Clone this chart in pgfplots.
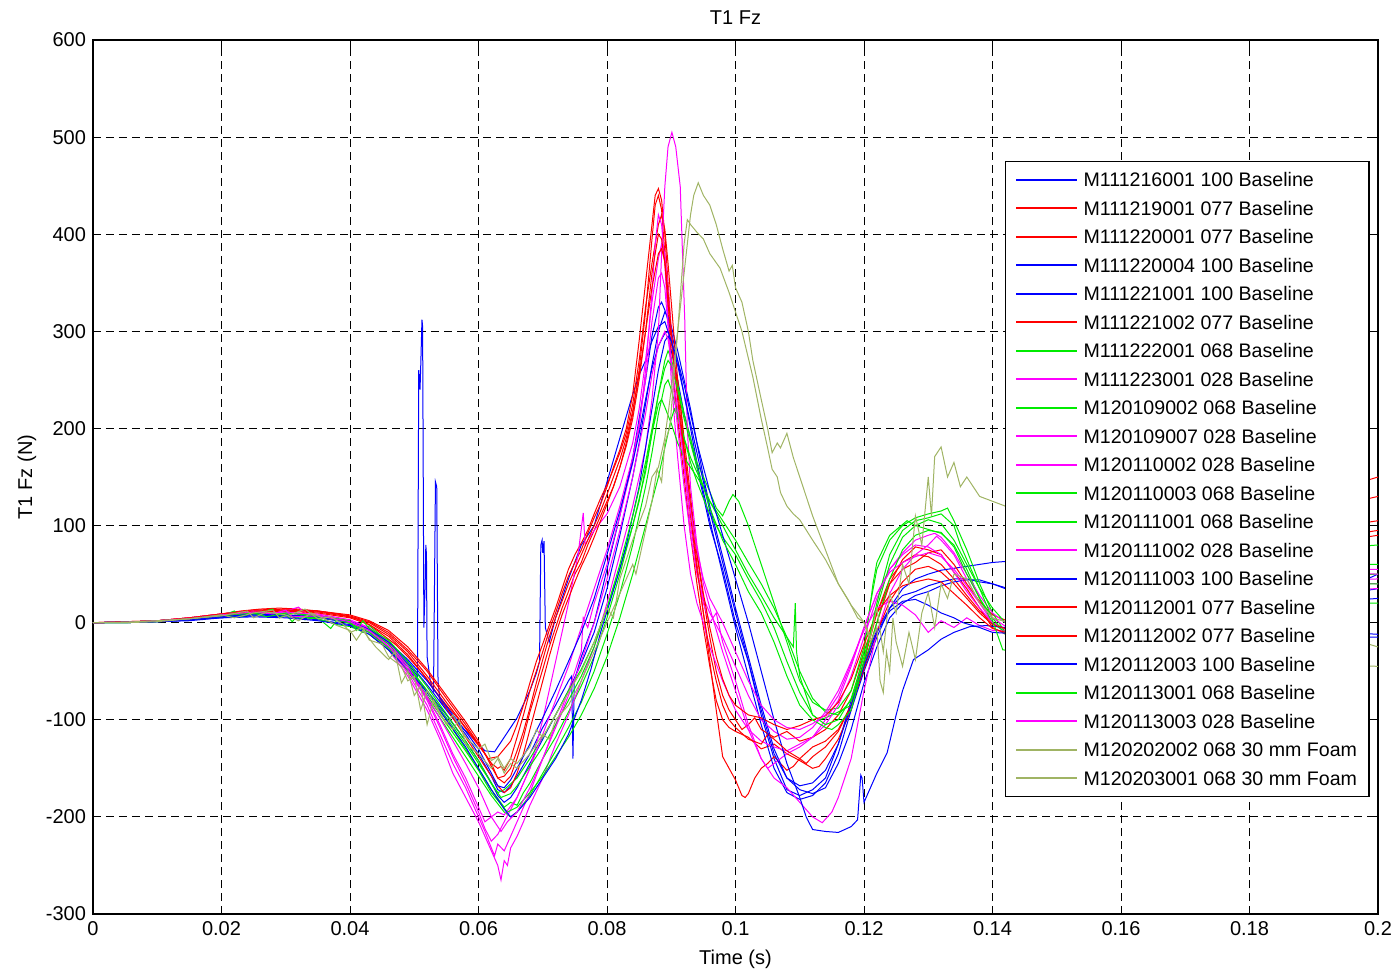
\documentclass[border=0pt]{standalone}
\usepackage{fontspec}
\setmainfont{Liberation Sans}
\usepackage{pgfplots}
\pgfplotsset{compat=1.18}
\definecolor{mblue}{RGB}{0,0,255}
\definecolor{mred}{RGB}{255,0,0}
\definecolor{mgreen}{RGB}{0,235,0}
\definecolor{mmag}{RGB}{255,0,255}
\definecolor{molive}{RGB}{160,180,100}
\begin{document}
\begin{tikzpicture}
\useasboundingbox (-46.5pt,-28pt) rectangle (652pt,457pt);
\begin{axis}[
  at={(0,0)}, anchor=south west,
  scale only axis, width=642.5pt, height=437pt,
  xmin=0, xmax=0.2, ymin=-300, ymax=600,
  xtick={0,0.02,0.04,0.06,0.08,0.1,0.12,0.14,0.16,0.18,0.2},
  xticklabels={0,0.02,0.04,0.06,0.08,0.1,0.12,0.14,0.16,0.18,0.2},
  scaled x ticks=false,
  ytick={-300,-200,...,600},
  /pgf/number format/assume math mode=true,
  tick align=inside, major tick length=4pt,
  tick style={black, line width=0.5pt},
  axis line style={black, line width=0.6pt},
  grid=major,
  grid style={black, line width=0.5pt, dash pattern=on 4pt off 2.5pt},
  title={T1 Fz},
  title style={at={(0.5,1)}, anchor=base, yshift=2pt},
  xlabel={Time (s)},
  xlabel style={at={(axis description cs:0.5,0)}, anchor=base, yshift=-25pt},
  ylabel={T1 Fz (N)},
  ylabel style={at={(axis description cs:-0.0514,0.5)}, anchor=center, rotate=0},
  legend cell align=left,
  legend style={at={(0.7097,0.8616)}, anchor=north west, draw=black, fill=white,
     line width=0.6pt, inner xsep=4.25pt, inner ysep=2.25pt, row sep=0.76pt,
     font=\fontsize{9.8}{12}\selectfont,
     nodes={text height=8.5pt, text depth=1.5pt, inner sep=1.75pt}},
  legend image code/.code={\path[draw=none,fill=none] (0pt,-3.5pt) rectangle (33pt,0pt);\draw[#1, line width=1pt] (1pt,0pt) -- (31.5pt,0pt);},
  every axis plot/.append style={line width=0.5pt},
]
% 1 blue spikes
\addplot[mblue] coordinates {(0,0)(0.005,0.5)(0.01,1)(0.015,3)(0.02,6)(0.025,8)(0.03,7)(0.035,5)(0.04,0)(0.043,-8)(0.046,-22)(0.049,-42)(0.0505,-55)(0.0507,260)(0.0509,240)(0.051,262)(0.0512,312)(0.0513,305)(0.0515,-5)(0.0517,40)(0.0518,80)(0.0519,70)(0.052,-35)(0.0525,-60)(0.053,-70)(0.0533,145)(0.0535,140)(0.0537,-60)(0.054,-80)(0.055,-88)(0.057,-105)(0.059,-118)(0.061,-132)(0.0625,-133)(0.063,-128)(0.064,-118)(0.066,-98)(0.068,-70)(0.069,-52)(0.0695,-40)(0.0697,80)(0.0699,85)(0.07,72)(0.0702,84)(0.0704,-5)(0.071,-20)(0.072,5)(0.074,45)(0.076,80)(0.078,100)(0.08,145)(0.082,190)(0.084,235)(0.085,255)(0.086,270)(0.087,290)(0.088,305)(0.089,310)(0.0895,300)(0.09,280)(0.091,250)(0.092,215)(0.093,190)(0.094,160)(0.095,130)(0.096,100)(0.098,55)(0.1,0)(0.102,-40)(0.104,-95)(0.106,-140)(0.108,-172)(0.11,-178)(0.112,-172)(0.114,-160)(0.116,-125)(0.118,-80)(0.12,-40)(0.122,-8)(0.124,15)(0.126,28)(0.128,32)(0.13,38)(0.132,42)(0.134,45)(0.136,45)(0.138,42)(0.14,40)(0.142,36)(0.15,20)(0.16,10)(0.17,5)(0.18,10)(0.19,25)(0.2,35)};
\addlegendentry{M111216001 100 Baseline}
% 2 red
\addplot[mred] coordinates {(0,0)(0.005,0.5)(0.01,2)(0.015,5)(0.02,9)(0.023,12)(0.026,14)(0.029,15)(0.032,14)(0.035,12)(0.038,9)(0.041,4)(0.043,-2)(0.045,-12)(0.047,-22)(0.049,-35)(0.051,-50)(0.053,-68)(0.055,-85)(0.057,-100)(0.059,-118)(0.061,-135)(0.062,-145)(0.063,-150)(0.0635,-148)(0.064,-152)(0.065,-140)(0.066,-118)(0.067,-95)(0.068,-70)(0.069,-50)(0.07,-30)(0.071,-8)(0.072,10)(0.073,30)(0.074,48)(0.075,62)(0.076,75)(0.077,92)(0.078,108)(0.079,122)(0.08,140)(0.081,160)(0.082,178)(0.083,200)(0.084,235)(0.085,290)(0.086,350)(0.087,410)(0.0875,440)(0.088,447)(0.0885,435)(0.089,400)(0.0895,350)(0.09,300)(0.0905,260)(0.091,250)(0.0915,220)(0.092,180)(0.093,120)(0.094,60)(0.095,10)(0.096,-40)(0.097,-90)(0.098,-138)(0.099,-150)(0.1,-162)(0.101,-178)(0.1015,-180)(0.102,-176)(0.103,-160)(0.104,-150)(0.105,-145)(0.106,-138)(0.107,-145)(0.108,-152)(0.109,-148)(0.11,-140)(0.112,-128)(0.114,-122)(0.116,-110)(0.118,-85)(0.12,-40)(0.122,10)(0.124,45)(0.126,62)(0.128,70)(0.13,68)(0.132,60)(0.134,45)(0.136,28)(0.138,12)(0.14,0)(0.143,-10)(0.15,10)(0.16,40)(0.17,70)(0.18,100)(0.19,130)(0.2,150)};
\addlegendentry{M111219001 077 Baseline}
% 3 red
\addplot[mred] coordinates {(0,0)(0.005,1)(0.01,2)(0.015,5)(0.02,9)(0.025,13)(0.03,14)(0.035,12)(0.04,7)(0.043,1)(0.046,-10)(0.049,-28)(0.052,-50)(0.055,-78)(0.058,-105)(0.06,-125)(0.062,-145)(0.063,-160)(0.064,-165)(0.065,-158)(0.066,-140)(0.067,-118)(0.068,-92)(0.069,-70)(0.07,-48)(0.071,-25)(0.072,-5)(0.073,15)(0.074,32)(0.075,50)(0.076,62)(0.077,80)(0.078,95)(0.079,110)(0.08,125)(0.081,140)(0.082,160)(0.083,185)(0.084,215)(0.085,260)(0.086,320)(0.087,395)(0.0875,430)(0.088,440)(0.0885,425)(0.089,380)(0.0895,320)(0.09,270)(0.091,210)(0.092,150)(0.093,90)(0.094,40)(0.095,-5)(0.096,-45)(0.097,-80)(0.098,-100)(0.099,-108)(0.1,-112)(0.102,-118)(0.104,-130)(0.106,-125)(0.108,-135)(0.11,-142)(0.112,-150)(0.113,-148)(0.114,-140)(0.116,-120)(0.118,-90)(0.12,-45)(0.122,0)(0.124,40)(0.126,65)(0.128,78)(0.13,75)(0.132,70)(0.134,52)(0.136,35)(0.138,15)(0.14,-5)(0.143,-15)(0.15,0)(0.16,30)(0.17,60)(0.18,90)(0.19,115)(0.2,130)};
\addlegendentry{M111220001 077 Baseline}
% 4 blue
\addplot[mblue] coordinates {(0,0)(0.005,0.5)(0.01,1)(0.015,3)(0.02,6)(0.025,8)(0.03,8)(0.035,5)(0.04,1)(0.043,-6)(0.046,-20)(0.049,-40)(0.052,-64)(0.055,-90)(0.058,-115)(0.06,-135)(0.062,-158)(0.063,-172)(0.064,-175)(0.065,-168)(0.066,-158)(0.068,-135)(0.07,-108)(0.072,-85)(0.074,-60)(0.0745,-55)(0.0747,-140)(0.0749,-60)(0.076,-35)(0.078,0)(0.08,55)(0.082,110)(0.084,170)(0.085,210)(0.086,250)(0.087,295)(0.088,325)(0.0885,330)(0.089,322)(0.09,300)(0.091,270)(0.092,235)(0.093,200)(0.094,165)(0.095,135)(0.096,105)(0.098,50)(0.1,-5)(0.102,-55)(0.104,-105)(0.106,-150)(0.108,-175)(0.11,-182)(0.112,-178)(0.114,-165)(0.116,-135)(0.118,-90)(0.12,-50)(0.122,-15)(0.124,15)(0.126,35)(0.128,45)(0.13,50)(0.132,54)(0.134,56)(0.136,58)(0.138,60)(0.14,62)(0.142,63)(0.15,50)(0.16,30)(0.17,15)(0.18,10)(0.19,20)(0.2,50)};
\addlegendentry{M111220004 100 Baseline}
% 5 blue
\addplot[mblue] coordinates {(0,0)(0.005,0)(0.01,1)(0.015,3)(0.02,5)(0.025,7)(0.03,6)(0.035,3)(0.04,-2)(0.043,-10)(0.046,-25)(0.049,-45)(0.052,-70)(0.055,-95)(0.058,-122)(0.06,-142)(0.062,-165)(0.063,-178)(0.064,-185)(0.065,-180)(0.066,-170)(0.068,-145)(0.07,-120)(0.072,-95)(0.074,-70)(0.076,-42)(0.078,-10)(0.08,35)(0.082,90)(0.084,150)(0.085,185)(0.086,225)(0.087,265)(0.088,300)(0.089,320)(0.0895,315)(0.09,305)(0.091,280)(0.092,250)(0.093,220)(0.094,185)(0.095,150)(0.096,120)(0.098,68)(0.1,15)(0.102,-35)(0.104,-85)(0.106,-130)(0.108,-160)(0.11,-172)(0.112,-176)(0.114,-170)(0.116,-145)(0.118,-110)(0.12,-62)(0.122,-25)(0.124,5)(0.126,20)(0.128,28)(0.13,32)(0.132,38)(0.134,42)(0.136,44)(0.138,44)(0.14,40)(0.142,35)(0.15,20)(0.16,5)(0.17,-5)(0.18,-10)(0.19,-15)(0.2,-15)};
\addlegendentry{M111221001 100 Baseline}
% 6 red
\addplot[mred] coordinates {(0,0)(0.005,0.5)(0.01,2)(0.015,5)(0.02,9)(0.025,12)(0.03,13)(0.035,11)(0.04,6)(0.043,0)(0.046,-12)(0.049,-30)(0.052,-55)(0.055,-82)(0.058,-108)(0.06,-125)(0.0615,-140)(0.063,-138)(0.064,-130)(0.065,-122)(0.066,-105)(0.067,-85)(0.068,-62)(0.069,-40)(0.07,-22)(0.071,-3)(0.072,15)(0.073,35)(0.074,55)(0.075,70)(0.076,82)(0.077,95)(0.078,112)(0.079,128)(0.08,142)(0.081,158)(0.082,175)(0.083,195)(0.084,225)(0.085,270)(0.086,325)(0.087,370)(0.088,410)(0.0885,420)(0.089,405)(0.0895,370)(0.09,330)(0.0905,290)(0.091,250)(0.092,190)(0.093,130)(0.094,70)(0.095,25)(0.096,-15)(0.097,-50)(0.098,-75)(0.099,-90)(0.1,-100)(0.101,-110)(0.102,-105)(0.103,-98)(0.104,-110)(0.106,-118)(0.108,-112)(0.11,-122)(0.112,-118)(0.114,-110)(0.116,-95)(0.118,-70)(0.12,-30)(0.122,10)(0.124,40)(0.126,55)(0.128,62)(0.13,72)(0.132,75)(0.134,60)(0.136,40)(0.138,22)(0.14,8)(0.143,0)(0.15,5)(0.16,25)(0.17,50)(0.18,75)(0.19,95)(0.2,105)};
\addlegendentry{M111221002 077 Baseline}
% 7 green
\addplot[mgreen] coordinates {(0,0)(0.005,0)(0.01,2)(0.015,4)(0.02,7)(0.022,12)(0.023,6)(0.025,10)(0.03,9)(0.033,3)(0.035,6)(0.04,0)(0.042,-10)(0.043,-3)(0.046,-20)(0.049,-45)(0.052,-72)(0.055,-100)(0.058,-130)(0.06,-150)(0.062,-172)(0.064,-190)(0.065,-185)(0.066,-188)(0.067,-175)(0.068,-165)(0.07,-140)(0.072,-118)(0.074,-92)(0.076,-65)(0.078,-35)(0.08,5)(0.082,50)(0.084,100)(0.085,125)(0.086,160)(0.087,195)(0.088,235)(0.089,270)(0.0895,280)(0.09,272)(0.091,245)(0.092,215)(0.093,190)(0.094,165)(0.095,150)(0.096,135)(0.097,118)(0.098,110)(0.099,125)(0.0996,132)(0.1005,125)(0.102,100)(0.104,60)(0.106,20)(0.108,-20)(0.11,-60)(0.112,-82)(0.114,-90)(0.116,-88)(0.118,-70)(0.12,-25)(0.121,20)(0.122,55)(0.124,85)(0.126,100)(0.128,108)(0.13,112)(0.132,115)(0.133,118)(0.134,105)(0.136,75)(0.138,40)(0.14,10)(0.142,-10)(0.145,-20)(0.15,-10)(0.16,20)(0.17,45)(0.18,65)(0.19,75)(0.2,80)};
\addlegendentry{M111222001 068 Baseline}
% 8 magenta
\addplot[mmag] coordinates {(0,0)(0.005,0.5)(0.01,2)(0.015,4)(0.02,8)(0.025,10)(0.03,10)(0.035,7)(0.04,0)(0.043,-10)(0.046,-28)(0.049,-55)(0.052,-90)(0.054,-120)(0.056,-155)(0.058,-180)(0.06,-205)(0.061,-220)(0.062,-235)(0.063,-250)(0.0635,-265)(0.064,-245)(0.0645,-250)(0.065,-232)(0.066,-220)(0.067,-205)(0.068,-188)(0.07,-160)(0.072,-125)(0.074,-95)(0.076,-60)(0.078,-25)(0.08,20)(0.082,70)(0.084,120)(0.086,180)(0.087,230)(0.088,300)(0.0885,380)(0.089,449)(0.0895,490)(0.0901,505)(0.0907,490)(0.0914,449)(0.0921,312)(0.0925,200)(0.093,140)(0.094,80)(0.095,40)(0.096,15)(0.098,-30)(0.1,-70)(0.102,-110)(0.104,-140)(0.106,-160)(0.108,-170)(0.11,-185)(0.112,-200)(0.1135,-206)(0.115,-195)(0.116,-180)(0.118,-140)(0.12,-70)(0.122,-10)(0.124,30)(0.126,55)(0.128,70)(0.13,80)(0.1313,89)(0.132,85)(0.134,70)(0.136,45)(0.138,20)(0.14,0)(0.143,-15)(0.15,-5)(0.16,15)(0.17,30)(0.18,40)(0.19,42)(0.2,40)};
\addlegendentry{M111223001 028 Baseline}
% 9 green
\addplot[mgreen] coordinates {(0,0)(0.005,0)(0.01,1)(0.015,4)(0.02,7)(0.025,9)(0.028,14)(0.029,5)(0.03,8)(0.035,4)(0.038,-2)(0.04,-4)(0.043,-12)(0.046,-28)(0.049,-50)(0.052,-78)(0.055,-108)(0.058,-138)(0.06,-158)(0.062,-178)(0.064,-195)(0.065,-200)(0.066,-195)(0.068,-178)(0.07,-155)(0.072,-132)(0.074,-108)(0.076,-82)(0.078,-50)(0.08,-12)(0.082,30)(0.084,80)(0.086,140)(0.087,175)(0.088,215)(0.089,245)(0.0895,250)(0.09,240)(0.091,215)(0.092,190)(0.093,165)(0.094,145)(0.095,128)(0.096,112)(0.098,88)(0.1,70)(0.102,45)(0.104,22)(0.106,-5)(0.108,-40)(0.11,-72)(0.112,-95)(0.113,-100)(0.114,-98)(0.116,-92)(0.118,-85)(0.12,-30)(0.1214,40)(0.122,62)(0.124,90)(0.1267,105)(0.128,100)(0.13,96)(0.132,92)(0.134,80)(0.136,55)(0.138,25)(0.14,0)(0.142,-10)(0.145,-15)(0.15,-5)(0.16,10)(0.17,25)(0.18,35)(0.19,40)(0.2,40)};
\addlegendentry{M120109002 068 Baseline}
% 10 magenta
\addplot[mmag] coordinates {(0,0)(0.005,0.5)(0.01,2)(0.015,4)(0.02,8)(0.025,11)(0.03,10)(0.035,7)(0.04,1)(0.043,-8)(0.046,-25)(0.049,-52)(0.052,-85)(0.054,-115)(0.056,-145)(0.058,-170)(0.06,-200)(0.061,-215)(0.062,-232)(0.0625,-240)(0.063,-228)(0.064,-235)(0.065,-220)(0.066,-205)(0.068,-175)(0.07,-140)(0.072,-105)(0.074,-70)(0.076,-30)(0.0763,5)(0.077,-5)(0.078,20)(0.08,60)(0.082,110)(0.084,165)(0.085,200)(0.086,260)(0.087,340)(0.0875,390)(0.088,420)(0.0885,410)(0.089,370)(0.0895,310)(0.09,250)(0.091,170)(0.092,100)(0.093,50)(0.094,20)(0.095,0)(0.096,-25)(0.098,-60)(0.1,-90)(0.102,-110)(0.104,-122)(0.106,-128)(0.108,-132)(0.11,-125)(0.112,-118)(0.114,-100)(0.116,-80)(0.118,-45)(0.12,-5)(0.122,30)(0.124,55)(0.126,70)(0.128,80)(0.13,78)(0.132,70)(0.134,52)(0.136,32)(0.138,15)(0.14,0)(0.143,-10)(0.15,0)(0.16,20)(0.17,40)(0.18,50)(0.19,55)(0.2,55)};
\addlegendentry{M120109007 028 Baseline}
% 11 magenta
\addplot[mmag] coordinates {(0,0)(0.005,0.5)(0.01,2)(0.015,4)(0.02,8)(0.025,12)(0.03,11)(0.035,8)(0.04,2)(0.043,-6)(0.046,-22)(0.049,-48)(0.052,-80)(0.054,-108)(0.056,-138)(0.058,-165)(0.06,-195)(0.061,-212)(0.062,-225)(0.063,-218)(0.064,-205)(0.066,-180)(0.068,-150)(0.07,-100)(0.072,-40)(0.074,20)(0.0755,70)(0.0763,113)(0.0766,80)(0.077,85)(0.078,95)(0.08,112)(0.082,140)(0.084,185)(0.085,220)(0.086,270)(0.087,330)(0.088,375)(0.0885,390)(0.089,380)(0.0895,345)(0.09,300)(0.091,230)(0.092,160)(0.093,100)(0.094,55)(0.095,20)(0.096,0)(0.097,10)(0.098,-20)(0.1,-60)(0.102,-105)(0.104,-140)(0.105,-150)(0.106,-145)(0.108,-135)(0.11,-128)(0.112,-118)(0.114,-105)(0.116,-85)(0.118,-55)(0.12,-15)(0.122,25)(0.124,55)(0.126,72)(0.128,85)(0.13,90)(0.131,92)(0.132,88)(0.134,72)(0.136,50)(0.138,28)(0.14,10)(0.143,-5)(0.15,0)(0.16,15)(0.17,28)(0.18,38)(0.19,44)(0.2,45)};
\addlegendentry{M120110002 028 Baseline}
% 12 green
\addplot[mgreen] coordinates {(0,0)(0.005,0.5)(0.01,2)(0.015,4)(0.02,8)(0.025,10)(0.03,9)(0.031,1)(0.032,8)(0.035,6)(0.04,1)(0.043,-8)(0.046,-22)(0.049,-44)(0.052,-70)(0.055,-98)(0.058,-125)(0.06,-145)(0.062,-165)(0.063,-175)(0.064,-172)(0.066,-160)(0.068,-140)(0.07,-118)(0.072,-95)(0.074,-70)(0.076,-48)(0.078,-20)(0.08,15)(0.082,55)(0.084,100)(0.086,155)(0.087,195)(0.088,225)(0.0885,230)(0.089,222)(0.09,205)(0.091,185)(0.092,170)(0.093,160)(0.094,150)(0.095,140)(0.096,125)(0.098,100)(0.1,75)(0.102,50)(0.104,28)(0.106,5)(0.108,-15)(0.109,-25)(0.1093,20)(0.1095,-30)(0.11,-55)(0.112,-95)(0.114,-105)(0.116,-100)(0.118,-78)(0.12,-35)(0.122,15)(0.124,60)(0.126,88)(0.128,100)(0.13,106)(0.132,102)(0.134,85)(0.136,60)(0.138,35)(0.14,15)(0.142,0)(0.145,-10)(0.15,0)(0.16,15)(0.17,30)(0.18,40)(0.19,48)(0.2,50)};
\addlegendentry{M120110003 068 Baseline}
% 13 green
\addplot[mgreen] coordinates {(0,0)(0.005,0)(0.01,1)(0.015,3)(0.02,6)(0.025,9)(0.03,8)(0.035,5)(0.037,-6)(0.038,3)(0.04,-1)(0.043,-10)(0.046,-26)(0.049,-48)(0.052,-75)(0.055,-104)(0.058,-132)(0.06,-152)(0.062,-175)(0.0645,-195)(0.066,-190)(0.068,-175)(0.07,-158)(0.072,-138)(0.074,-118)(0.076,-95)(0.078,-68)(0.08,-35)(0.082,5)(0.084,50)(0.086,100)(0.088,150)(0.089,180)(0.09,210)(0.0905,220)(0.091,212)(0.092,190)(0.093,170)(0.094,155)(0.095,140)(0.096,125)(0.098,105)(0.1,85)(0.102,62)(0.104,40)(0.106,15)(0.108,-15)(0.11,-50)(0.112,-78)(0.114,-92)(0.116,-95)(0.118,-80)(0.12,-45)(0.122,0)(0.124,45)(0.126,75)(0.128,90)(0.13,95)(0.132,93)(0.134,78)(0.136,50)(0.138,25)(0.14,5)(0.142,-12)(0.145,-25)(0.15,-20)(0.16,-10)(0.17,5)(0.18,15)(0.19,20)(0.2,20)};
\addlegendentry{M120111001 068 Baseline}
% 14 magenta
\addplot[mmag] coordinates {(0,0)(0.005,0.5)(0.01,2)(0.015,5)(0.02,9)(0.025,12)(0.03,12)(0.032,16)(0.033,9)(0.035,9)(0.04,3)(0.043,-5)(0.046,-20)(0.049,-45)(0.052,-78)(0.054,-105)(0.056,-135)(0.058,-160)(0.06,-190)(0.061,-205)(0.062,-200)(0.063,-195)(0.064,-198)(0.066,-180)(0.068,-150)(0.07,-115)(0.072,-80)(0.074,-45)(0.076,-5)(0.078,35)(0.08,75)(0.082,120)(0.084,170)(0.085,205)(0.086,250)(0.087,310)(0.088,355)(0.0885,360)(0.089,345)(0.0895,305)(0.09,265)(0.091,200)(0.092,140)(0.093,90)(0.094,50)(0.095,25)(0.096,10)(0.098,-15)(0.1,-45)(0.102,-75)(0.104,-100)(0.106,-112)(0.108,-120)(0.11,-118)(0.112,-108)(0.114,-92)(0.116,-70)(0.118,-40)(0.12,-8)(0.122,15)(0.124,22)(0.126,18)(0.128,8)(0.13,-10)(0.132,2)(0.134,-5)(0.136,5)(0.138,-3)(0.14,-8)(0.145,-10)(0.15,-5)(0.16,10)(0.17,20)(0.18,30)(0.19,34)(0.2,35)};
\addlegendentry{M120111002 028 Baseline}
% 15 blue late
\addplot[mblue] coordinates {(0,0)(0.005,0)(0.01,1)(0.015,2)(0.02,5)(0.025,6)(0.03,5)(0.035,2)(0.04,-3)(0.043,-12)(0.046,-28)(0.049,-48)(0.052,-72)(0.055,-100)(0.058,-128)(0.06,-150)(0.062,-172)(0.064,-192)(0.065,-200)(0.066,-195)(0.068,-180)(0.07,-160)(0.072,-140)(0.074,-115)(0.076,-80)(0.0775,-48)(0.079,-10)(0.0815,44)(0.083,80)(0.085,140)(0.086,180)(0.087,220)(0.088,260)(0.089,290)(0.0895,295)(0.09,290)(0.091,270)(0.092,245)(0.093,215)(0.094,185)(0.095,160)(0.096,135)(0.098,90)(0.1,45)(0.102,0)(0.104,-50)(0.106,-100)(0.108,-145)(0.11,-180)(0.111,-200)(0.112,-213)(0.114,-215)(0.116,-216)(0.118,-210)(0.119,-203)(0.1195,-157)(0.1197,-160)(0.12,-185)(0.121,-170)(0.122,-155)(0.1236,-134)(0.125,-95)(0.126,-70)(0.1277,-38)(0.13,-28)(0.132,-17)(0.134,-10)(0.1365,-4)(0.139,-3)(0.142,-5)(0.15,-10)(0.16,-15)(0.17,-10)(0.18,-5)(0.19,-8)(0.2,-12)};
\addlegendentry{M120111003 100 Baseline}
% 16 red
\addplot[mred] coordinates {(0,0)(0.005,0.5)(0.01,2)(0.015,4)(0.02,8)(0.025,11)(0.03,12)(0.035,10)(0.04,5)(0.043,-2)(0.046,-14)(0.049,-33)(0.052,-58)(0.055,-88)(0.058,-118)(0.06,-138)(0.062,-158)(0.063,-168)(0.064,-175)(0.065,-170)(0.066,-155)(0.067,-135)(0.068,-110)(0.069,-85)(0.07,-60)(0.071,-35)(0.072,-12)(0.073,8)(0.074,25)(0.075,42)(0.076,58)(0.077,72)(0.078,88)(0.079,105)(0.08,122)(0.081,140)(0.082,160)(0.083,182)(0.084,210)(0.085,250)(0.086,300)(0.087,360)(0.088,400)(0.0885,395)(0.089,370)(0.0895,330)(0.09,290)(0.091,230)(0.092,170)(0.093,110)(0.094,55)(0.095,10)(0.096,-30)(0.097,-60)(0.098,-85)(0.099,-100)(0.1,-108)(0.102,-120)(0.104,-125)(0.105,-115)(0.106,-120)(0.108,-132)(0.11,-140)(0.111,-145)(0.112,-138)(0.114,-128)(0.116,-112)(0.118,-85)(0.12,-48)(0.122,-10)(0.124,22)(0.126,42)(0.128,55)(0.13,58)(0.132,52)(0.134,40)(0.136,25)(0.138,10)(0.14,-2)(0.143,-8)(0.15,5)(0.16,25)(0.17,45)(0.18,65)(0.19,80)(0.2,90)};
\addlegendentry{M120112001 077 Baseline}
% 17 red
\addplot[mred] coordinates {(0,0)(0.005,1)(0.01,2)(0.015,5)(0.02,9)(0.025,12)(0.03,13)(0.035,12)(0.04,8)(0.043,2)(0.046,-8)(0.049,-25)(0.052,-48)(0.055,-75)(0.058,-102)(0.06,-122)(0.062,-148)(0.063,-160)(0.064,-158)(0.065,-150)(0.066,-132)(0.067,-112)(0.068,-88)(0.069,-62)(0.07,-38)(0.071,-15)(0.072,5)(0.073,22)(0.074,40)(0.075,55)(0.076,70)(0.077,85)(0.078,100)(0.079,115)(0.08,132)(0.081,150)(0.082,168)(0.083,190)(0.084,218)(0.085,255)(0.086,300)(0.087,345)(0.088,380)(0.0885,385)(0.089,372)(0.0895,340)(0.09,300)(0.091,240)(0.092,175)(0.093,120)(0.094,72)(0.095,30)(0.096,-5)(0.097,-35)(0.098,-58)(0.099,-75)(0.1,-85)(0.102,-95)(0.104,-98)(0.106,-105)(0.108,-110)(0.11,-106)(0.112,-100)(0.114,-96)(0.116,-82)(0.118,-58)(0.12,-22)(0.122,10)(0.124,28)(0.126,38)(0.128,42)(0.13,45)(0.132,42)(0.134,30)(0.136,18)(0.138,5)(0.14,-6)(0.143,-12)(0.15,0)(0.16,20)(0.17,45)(0.18,65)(0.19,85)(0.2,95)};
\addlegendentry{M120112002 077 Baseline}
% 18 blue
\addplot[mblue] coordinates {(0,0)(0.005,0.5)(0.01,1)(0.015,3)(0.02,6)(0.025,9)(0.03,8)(0.035,6)(0.04,1)(0.043,-7)(0.046,-20)(0.049,-38)(0.052,-60)(0.055,-86)(0.058,-112)(0.06,-130)(0.062,-155)(0.063,-168)(0.064,-170)(0.065,-162)(0.066,-150)(0.068,-125)(0.07,-98)(0.072,-70)(0.074,-40)(0.076,-10)(0.078,25)(0.08,70)(0.082,115)(0.084,165)(0.085,195)(0.086,230)(0.087,262)(0.088,285)(0.089,298)(0.0895,300)(0.09,290)(0.091,265)(0.092,235)(0.093,205)(0.094,175)(0.095,145)(0.096,115)(0.098,62)(0.1,10)(0.102,-40)(0.104,-90)(0.106,-135)(0.108,-160)(0.11,-168)(0.112,-165)(0.114,-152)(0.116,-125)(0.118,-85)(0.12,-45)(0.122,-10)(0.124,12)(0.126,22)(0.128,24)(0.13,18)(0.132,10)(0.134,5)(0.1354,0)(0.138,-5)(0.14,-10)(0.145,-12)(0.15,-5)(0.16,5)(0.17,10)(0.18,15)(0.19,20)(0.2,25)};
\addlegendentry{M120112003 100 Baseline}
% 19 green
\addplot[mgreen] coordinates {(0,0)(0.005,0.5)(0.01,2)(0.015,4)(0.02,8)(0.025,10)(0.027,6)(0.03,10)(0.035,7)(0.04,2)(0.041,-8)(0.042,2)(0.043,-6)(0.046,-18)(0.049,-40)(0.052,-66)(0.055,-94)(0.058,-122)(0.06,-142)(0.062,-166)(0.0635,-180)(0.065,-176)(0.066,-168)(0.068,-148)(0.07,-128)(0.072,-105)(0.074,-80)(0.076,-55)(0.078,-25)(0.08,15)(0.082,60)(0.084,110)(0.086,165)(0.087,200)(0.088,235)(0.089,262)(0.0895,270)(0.09,265)(0.091,240)(0.092,210)(0.093,185)(0.094,160)(0.095,140)(0.096,118)(0.098,85)(0.1,60)(0.102,32)(0.104,10)(0.106,-20)(0.108,-55)(0.11,-85)(0.112,-100)(0.114,-108)(0.115,-110)(0.116,-105)(0.118,-90)(0.12,-40)(0.122,20)(0.124,70)(0.126,95)(0.128,105)(0.13,108)(0.132,112)(0.134,100)(0.135,80)(0.136,65)(0.138,35)(0.1396,10)(0.1416,-28)(0.145,-30)(0.15,-15)(0.16,15)(0.17,40)(0.18,55)(0.19,60)(0.2,60)};
\addlegendentry{M120113001 068 Baseline}
% 20 magenta
\addplot[mmag] coordinates {(0,0)(0.005,0.5)(0.01,2)(0.015,4)(0.02,8)(0.025,11)(0.028,9)(0.03,13)(0.031,6)(0.035,7)(0.04,1)(0.043,-8)(0.046,-24)(0.049,-48)(0.052,-76)(0.055,-110)(0.058,-145)(0.06,-170)(0.062,-200)(0.0635,-215)(0.0645,-205)(0.066,-195)(0.068,-170)(0.07,-140)(0.072,-108)(0.074,-75)(0.076,-40)(0.078,0)(0.08,45)(0.082,95)(0.084,150)(0.086,215)(0.087,255)(0.088,285)(0.089,300)(0.0895,292)(0.09,270)(0.091,220)(0.092,165)(0.093,115)(0.094,75)(0.095,45)(0.096,25)(0.098,0)(0.1,-30)(0.102,-60)(0.104,-85)(0.106,-100)(0.108,-108)(0.11,-110)(0.112,-104)(0.114,-95)(0.116,-75)(0.118,-42)(0.12,-5)(0.122,30)(0.124,52)(0.126,62)(0.128,68)(0.13,72)(0.132,68)(0.134,55)(0.136,38)(0.138,20)(0.14,5)(0.143,-8)(0.15,0)(0.16,20)(0.17,38)(0.18,48)(0.19,52)(0.2,50)};
\addlegendentry{M120113003 028 Baseline}
% 21 olive
\addplot[molive] coordinates {(0,0)(0.005,0.5)(0.01,2)(0.015,4)(0.02,7)(0.024,12)(0.025,5)(0.027,11)(0.03,8)(0.032,2)(0.034,10)(0.036,4)(0.038,-3)(0.04,-8)(0.041,-18)(0.042,-8)(0.044,-25)(0.046,-38)(0.047,-30)(0.048,-62)(0.049,-50)(0.05,-75)(0.051,-65)(0.052,-105)(0.053,-80)(0.055,-105)(0.056,-95)(0.058,-118)(0.06,-130)(0.061,-125)(0.062,-142)(0.063,-138)(0.064,-150)(0.065,-140)(0.066,-145)(0.068,-128)(0.069,-110)(0.07,-118)(0.072,-95)(0.074,-72)(0.076,-50)(0.078,-20)(0.08,15)(0.081,5)(0.082,45)(0.084,85)(0.086,120)(0.087,150)(0.088,160)(0.089,190)(0.09,240)(0.091,300)(0.092,360)(0.093,420)(0.0935,440)(0.0942,453)(0.095,440)(0.096,430)(0.097,410)(0.098,385)(0.099,362)(0.0995,368)(0.1,345)(0.101,330)(0.102,300)(0.1027,270)(0.104,230)(0.105,200)(0.1057,175)(0.1065,185)(0.107,180)(0.108,195)(0.109,170)(0.11,150)(0.112,110)(0.114,75)(0.116,40)(0.118,18)(0.1195,5)(0.12,0)(0.121,-15)(0.122,15)(0.123,-30)(0.124,30)(0.125,10)(0.126,60)(0.127,40)(0.128,110)(0.129,80)(0.13,150)(0.1305,110)(0.131,171)(0.132,181)(0.133,150)(0.134,165)(0.135,140)(0.136,150)(0.138,130)(0.14,125)(0.142,120)(0.145,115)(0.15,100)(0.16,70)(0.17,40)(0.18,15)(0.19,-5)(0.2,-25)};
\addlegendentry{M120202002 068 30 mm Foam}
% 22 olive
\addplot[molive] coordinates {(0,0)(0.005,0)(0.01,1)(0.015,4)(0.02,8)(0.022,5)(0.025,10)(0.028,13)(0.029,5)(0.031,9)(0.033,14)(0.035,4)(0.037,6)(0.039,-2)(0.04,-10)(0.042,-5)(0.043,-18)(0.045,-22)(0.046,-35)(0.048,-45)(0.049,-60)(0.05,-55)(0.051,-90)(0.052,-70)(0.054,-95)(0.056,-110)(0.057,-100)(0.058,-125)(0.06,-135)(0.062,-150)(0.063,-140)(0.064,-155)(0.065,-145)(0.066,-150)(0.068,-135)(0.07,-115)(0.071,-120)(0.072,-100)(0.074,-85)(0.076,-60)(0.078,-30)(0.08,0)(0.082,30)(0.084,60)(0.0845,50)(0.086,95)(0.087,125)(0.0878,158)(0.0885,145)(0.089,185)(0.0898,202)(0.0905,260)(0.091,300)(0.0915,345)(0.092,390)(0.0925,415)(0.093,410)(0.094,402)(0.095,395)(0.096,380)(0.0976,365)(0.099,340)(0.0999,322)(0.101,300)(0.1027,253)(0.104,210)(0.105,180)(0.1057,158)(0.1065,150)(0.107,134)(0.108,120)(0.109,112)(0.11,106)(0.112,85)(0.114,65)(0.116,40)(0.1175,24)(0.119,5)(0.12,0)(0.121,-20)(0.122,-5)(0.1225,-60)(0.123,-72)(0.1235,-30)(0.124,-50)(0.1245,5)(0.125,-20)(0.126,-45)(0.127,-10)(0.128,-38)(0.129,10)(0.13,31)(0.131,-5)(0.132,40)(0.133,25)(0.134,50)(0.136,45)(0.138,20)(0.14,5)(0.145,-5)(0.15,-10)(0.16,-20)(0.17,-30)(0.18,-38)(0.19,-42)(0.2,-45)};
\addlegendentry{M120203001 068 30 mm Foam}
\end{axis}
\end{tikzpicture}
\end{document}
